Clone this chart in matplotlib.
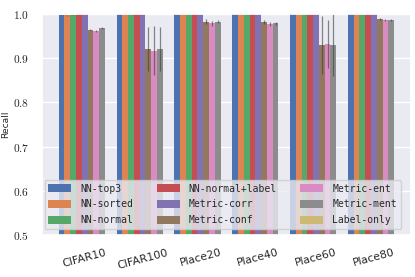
import numpy as np
import matplotlib
matplotlib.use("Agg")
import matplotlib.pyplot as plt
import seaborn as sns

# Recall per dataset for each attack variant
datasets = ['CIFAR10', 'CIFAR100', 'Place20', 'Place40', 'Place60', 'Place80']
methods = ['NN-top3', 'NN-sorted', 'NN-normal', 'NN-normal+label', 'Metric-corr',
           'Metric-conf', 'Metric-ent', 'Metric-ment', 'Label-only']

nan = float('nan')
recall = {
    'NN-top3':         [0.998, 1.000, 1.000, 1.000, 1.000, 1.000],
    'NN-sorted':       [0.997, 1.000, 1.000, 1.000, 1.000, 1.000],
    'NN-normal':       [0.999, 1.000, 1.000, 1.000, 1.000, 1.000],
    'NN-normal+label': [1.000, 1.000, 1.000, 1.000, 1.000, 1.000],
    'Metric-corr':     [1.000, 1.000, 1.000, 1.000, 1.000, 1.000],
    'Metric-conf':     [0.965, 0.921, 0.983, 0.982, 0.930, 0.989],
    'Metric-ent':      [0.961, 0.917, 0.979, 0.978, 0.932, 0.987],
    'Metric-ment':     [0.969, 0.921, 0.983, 0.979, 0.931, 0.987],
    'Label-only':      [nan, nan, nan, nan, nan, nan],  # not shown in the chart
}
recall_err = {
    'NN-top3':         [0.001, 0.0, 0.0, 0.0, 0.0, 0.0],
    'NN-sorted':       [0.001, 0.0, 0.0, 0.0, 0.0, 0.0],
    'NN-normal':       [0.001, 0.0, 0.0, 0.0, 0.0, 0.0],
    'NN-normal+label': [0.0, 0.0, 0.0, 0.0, 0.0, 0.0],
    'Metric-corr':     [0.0, 0.0, 0.0, 0.0, 0.0, 0.0],
    'Metric-conf':     [0.002, 0.050, 0.006, 0.004, 0.065, 0.002],
    'Metric-ent':      [0.002, 0.055, 0.006, 0.005, 0.055, 0.002],
    'Metric-ment':     [0.002, 0.050, 0.004, 0.004, 0.070, 0.002],
    'Label-only':      [nan, nan, nan, nan, nan, nan],
}

sns.set_theme(style='darkgrid')
plt.rcParams['mathtext.fontset'] = 'cm'
colors = sns.color_palette('deep', len(methods))

fig, ax = plt.subplots(figsize=(4.15, 2.77), dpi=100)
x = np.arange(len(datasets))
width = 0.1
for i, m in enumerate(methods):
    pos = x + (i - (len(methods) - 1) / 2) * width
    ax.bar(pos, recall[m], width, color=colors[i], label=m, linewidth=0)
    ax.errorbar(pos, recall[m], yerr=recall_err[m], fmt='none',
                ecolor='#3c3c3c', elinewidth=0.9, alpha=0.6)

ax.set_ylim(0.5, 1.0)
ax.set_xlim(-0.74, 5.64)
ax.set_xticks(x)
ax.set_xticklabels(datasets, rotation=15, fontsize=7.8)
yt = [0.5, 0.6, 0.7, 0.8, 0.9, 1.0]
ax.set_yticks(yt)
ax.set_yticklabels([f'${v:.1f}$' for v in yt], fontsize=8.2)
ax.set_ylabel('Recall', fontsize=6.6)
ax.yaxis.set_label_coords(-0.087, 0.5)
ax.tick_params(axis='both', pad=3)

leg = ax.legend(ncol=3, loc='lower center', bbox_to_anchor=(0.49, 0.0),
                prop={'family': 'DejaVu Sans Mono', 'size': 7.0},
                handlelength=2.35, handleheight=0.87, handletextpad=0.95,
                columnspacing=2.4, labelspacing=0.6, borderaxespad=0.6)

fig.subplots_adjust(left=0.101, right=0.99, top=0.949, bottom=0.152)
fig.savefig('out.png', dpi=100)
